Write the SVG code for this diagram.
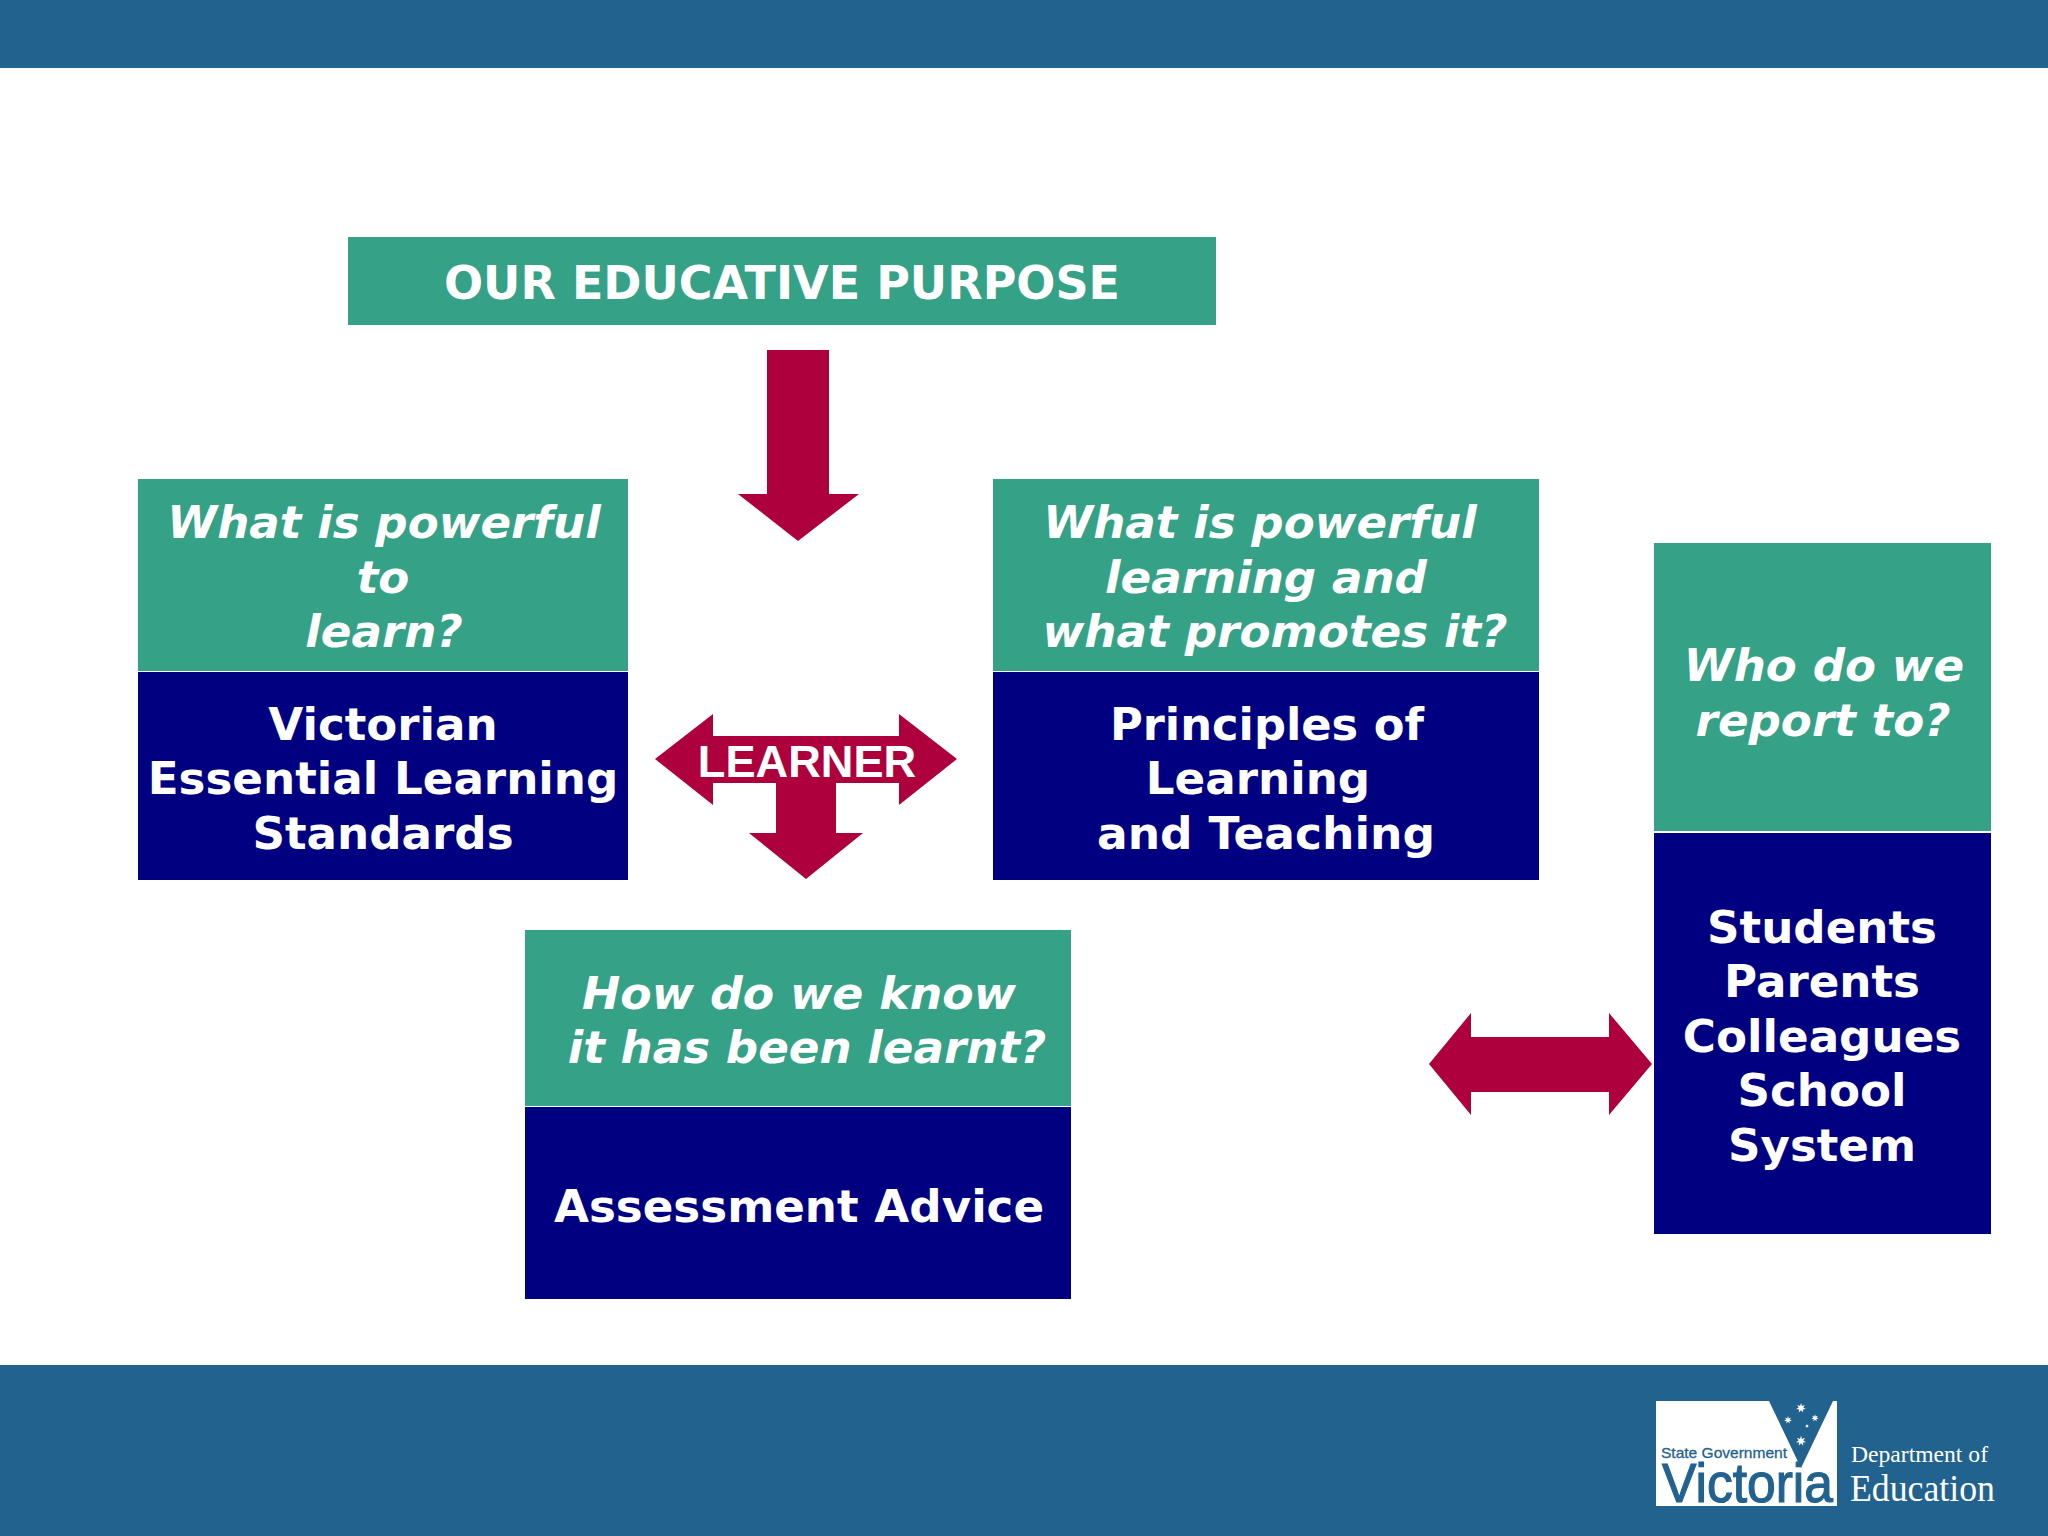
<svg xmlns="http://www.w3.org/2000/svg" width="2048" height="1536" viewBox="0 0 2048 1536">
<style>
.bar{fill:#22628f}
.teal{fill:#35a186}
.navy{fill:#000080}
.red{fill:#ae003c}
text{font-family:"DejaVu Sans",Verdana,sans-serif;font-weight:700;font-size:45.2px;fill:#fff;text-anchor:middle}
.q{font-style:italic}
.title{font-size:46px}
.sans{font-family:"Liberation Sans",Arial,sans-serif}
.serif{font-family:"Liberation Serif",serif;font-weight:400;text-anchor:start}
.logo{font-weight:400;fill:#22628f;stroke:#22628f;text-anchor:start}
</style>
<defs>
<polygon id="star" fill="#fff" points="0,-10 1.95,-4.05 7.82,-6.23 4.39,-1 9.75,2.23 3.52,2.81 4.34,9.01 0,4.5 -4.34,9.01 -3.52,2.81 -9.75,2.23 -4.39,-1 -7.82,-6.23 -1.95,-4.05"/>
</defs>
<rect class="bar" x="0" y="0" width="2048" height="68"/>
<rect class="bar" x="0" y="1365" width="2048" height="171"/>
<g id="purpose">
<rect class="teal" x="348" y="237" width="868" height="88"/>
<text class="title" x="782" y="299">OUR EDUCATIVE PURPOSE</text>
</g>
<g id="standards">
<rect class="teal" x="138" y="479" width="490" height="192"/>
<rect class="navy" x="138" y="672" width="490" height="208"/>
<text class="q" x="384" y="538">What is powerful</text>
<text class="q" x="383" y="593">to</text>
<text class="q" x="384" y="647">learn?</text>
<text x="383" y="740">Victorian</text>
<text x="383" y="794">Essential Learning</text>
<text x="383" y="849">Standards</text>
</g>
<g id="principles">
<rect class="teal" x="993" y="479" width="546" height="192"/>
<rect class="navy" x="993" y="672" width="546" height="208"/>
<text class="q" x="1260" y="538">What is powerful</text>
<text class="q" x="1266" y="593">learning and</text>
<text class="q" x="1275" y="647" textLength="465" lengthAdjust="spacingAndGlyphs">what promotes it?</text>
<text x="1267" y="740" textLength="314" lengthAdjust="spacingAndGlyphs">Principles of</text>
<text x="1258" y="794">Learning</text>
<text x="1266" y="849" textLength="338" lengthAdjust="spacingAndGlyphs">and Teaching</text>
</g>
<g id="assessment">
<rect class="teal" x="525" y="930" width="546" height="176"/>
<rect class="navy" x="525" y="1107" width="546" height="192"/>
<text class="q" x="799" y="1009" textLength="434" lengthAdjust="spacingAndGlyphs">How do we know</text>
<text class="q" x="807" y="1063">it has been learnt?</text>
<text x="799" y="1222">Assessment Advice</text>
</g>
<g id="report">
<rect class="teal" x="1654" y="543" width="337" height="288"/>
<rect class="navy" x="1654" y="833" width="337" height="401"/>
<text class="q" x="1824" y="681">Who do we</text>
<text class="q" x="1823" y="736">report to?</text>
<text x="1822" y="943">Students</text>
<text x="1822" y="997">Parents</text>
<text x="1822" y="1052">Colleagues</text>
<text x="1822" y="1106">School</text>
<text x="1822" y="1161">System</text>
</g>
<g id="connectors">
<polygon class="red" points="767,350 829,350 829,494 859,494 798,541 738,494 767,494"/>
<polygon class="red" points="655,759 713,714 713,736 899,736 899,714 957,759 899,805 899,783 836,783 836,833 863,833 806,879 749,833 776,833 776,783 713,783 713,805"/>
<polygon class="red" points="1429,1064 1471,1013 1471,1037 1609,1037 1609,1013 1652,1064 1609,1115 1609,1092 1471,1092 1471,1115"/>
</g>
<g id="learner">
<text class="sans" x="807" y="777">LEARNER</text>
</g>
<g id="logo">
<polygon fill="#fff" points="1656,1401 1769,1401 1801,1468 1833,1401 1837,1401 1837,1506 1656,1506"/>
<use href="#star" transform="translate(1801,1408) scale(.5)"/>
<use href="#star" transform="translate(1788,1420) scale(.4)"/>
<use href="#star" transform="translate(1815,1418) scale(.38)"/>
<use href="#star" transform="translate(1807,1426) scale(.2)"/>
<use href="#star" transform="translate(1801,1441) scale(.52)"/>
<text class="sans logo" x="1661" y="1458" textLength="126" lengthAdjust="spacingAndGlyphs" style="font-size:15px;stroke-width:.3">State Government</text>
<text class="sans logo" x="1662" y="1502" textLength="171" lengthAdjust="spacingAndGlyphs" style="font-size:56px;stroke-width:1.2">Victoria</text>
<text class="serif" x="1851" y="1462" textLength="137" lengthAdjust="spacingAndGlyphs" style="font-size:24px">Department of</text>
<text class="serif" x="1850" y="1501" textLength="145" lengthAdjust="spacingAndGlyphs" style="font-size:37px">Education</text>
</g>
</svg>
